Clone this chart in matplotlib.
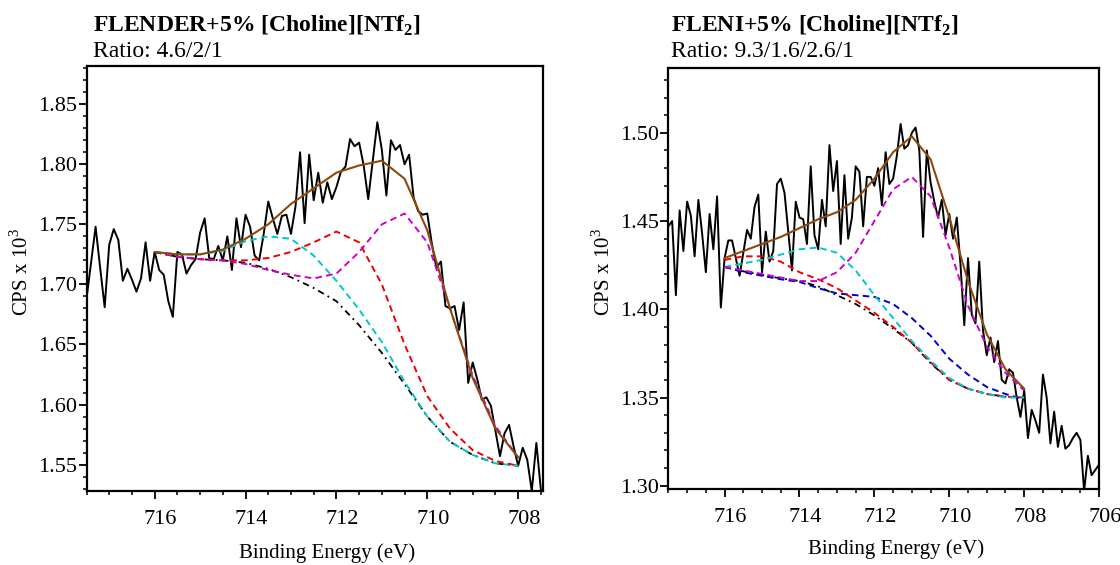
import numpy as np
import matplotlib
matplotlib.use("Agg")
import matplotlib.pyplot as plt
from matplotlib.ticker import MultipleLocator, FormatStrFormatter
from matplotlib.transforms import ScaledTranslation

plt.rcParams['font.family'] = ['Liberation Serif', 'DejaVu Serif']
plt.rcParams['mathtext.fontset'] = 'custom'
plt.rcParams['mathtext.rm'] = 'Liberation Serif'
plt.rcParams['mathtext.bf'] = 'Liberation Serif:bold'

# ---------------- Left panel data ----------------
left_E = np.round(np.arange(717.5, 707.45, -0.1), 1)
left_cps = [1.688, 1.718, 1.748, 1.714, 1.681, 1.733, 1.746, 1.737, 1.703, 1.713,
            1.704, 1.694, 1.705, 1.735, 1.703, 1.727, 1.712, 1.708, 1.686, 1.673,
            1.727, 1.725, 1.709, 1.716, 1.721, 1.743, 1.755, 1.722, 1.721, 1.732,
            1.720, 1.740, 1.712, 1.755, 1.731, 1.758, 1.748, 1.724, 1.720, 1.742,
            1.769, 1.755, 1.742, 1.757, 1.758, 1.742, 1.765, 1.810, 1.751, 1.808,
            1.770, 1.793, 1.768, 1.785, 1.771, 1.781, 1.794, 1.798, 1.821, 1.815,
            1.818, 1.799, 1.771, 1.803, 1.835, 1.812, 1.774, 1.820, 1.812, 1.816,
            1.800, 1.808, 1.772, 1.761, 1.758, 1.759, 1.734, 1.714, 1.719, 1.682,
            1.680, 1.682, 1.662, 1.685, 1.618, 1.635, 1.621, 1.604, 1.606, 1.599,
            1.578, 1.557, 1.576, 1.583, 1.565, 1.549, 1.564, 1.554, 1.528, 1.568,
            1.529]

fit_E = [716.0, 715.5, 715.0, 714.5, 714.0, 713.5, 713.0, 712.5, 712.0,
         711.5, 711.0, 710.5, 710.0, 709.5, 709.0, 708.5, 708.0]

left_bg =      [1.727, 1.723, 1.721, 1.720, 1.718, 1.713, 1.706, 1.697, 1.686,
                1.666, 1.643, 1.617, 1.590, 1.569, 1.558, 1.551, 1.549]
left_cyan =    [1.727, 1.725, 1.725, 1.728, 1.736, 1.740, 1.738, 1.724, 1.703,
                1.679, 1.652, 1.619, 1.590, 1.569, 1.558, 1.551, 1.549]
left_red =     [1.727, 1.723, 1.721, 1.720, 1.720, 1.722, 1.727, 1.735, 1.744,
                1.735, 1.700, 1.650, 1.607, 1.580, 1.562, 1.553, 1.549]
left_magenta = [1.727, 1.723, 1.721, 1.720, 1.717, 1.712, 1.708, 1.705, 1.709,
                1.727, 1.750, 1.759, 1.735, 1.680, 1.624, 1.582, 1.556]
left_env =     [1.727, 1.725, 1.725, 1.729, 1.738, 1.750, 1.767, 1.780, 1.793,
                1.799, 1.803, 1.788, 1.745, 1.680, 1.622, 1.580, 1.556]

# ---------------- Right panel data ----------------
right_E = np.round(np.arange(717.5, 705.95, -0.1), 1)
right_cps = [1.447, 1.450, 1.408, 1.456, 1.433, 1.461, 1.453, 1.430, 1.462, 1.443,
             1.421, 1.454, 1.434, 1.464, 1.401, 1.429, 1.439, 1.439, 1.429, 1.419,
             1.432, 1.445, 1.440, 1.458, 1.465, 1.421, 1.444, 1.427, 1.433, 1.471,
             1.474, 1.466, 1.444, 1.422, 1.461, 1.452, 1.451, 1.437, 1.481, 1.442,
             1.434, 1.462, 1.447, 1.493, 1.467, 1.484, 1.437, 1.476, 1.440, 1.452,
             1.481, 1.478, 1.447, 1.475, 1.475, 1.470, 1.480, 1.459, 1.489, 1.471,
             1.474, 1.487, 1.505, 1.491, 1.493, 1.500, 1.503, 1.490, 1.441, 1.490,
             1.472, 1.461, 1.452, 1.462, 1.442, 1.454, 1.440, 1.452, 1.425, 1.391,
             1.429, 1.397, 1.392, 1.427, 1.388, 1.374, 1.384, 1.370, 1.382, 1.360,
             1.358, 1.366, 1.364, 1.350, 1.339, 1.354, 1.327, 1.343, 1.337, 1.330,
             1.363, 1.350, 1.324, 1.342, 1.322, 1.334, 1.321, 1.323, 1.327, 1.330,
             1.326, 1.297, 1.317, 1.306, 1.309, 1.312]

right_bg =      [1.424, 1.4215, 1.4195, 1.4175, 1.416, 1.413, 1.408, 1.403, 1.3965,
                 1.389, 1.381, 1.3695, 1.360, 1.355, 1.352, 1.3505, 1.350]
right_blue =    [1.424, 1.421, 1.419, 1.417, 1.4155, 1.412, 1.409, 1.408, 1.407,
                 1.403, 1.395, 1.385, 1.372, 1.363, 1.356, 1.352, 1.349]
right_red =     [1.428, 1.430, 1.430, 1.427, 1.421, 1.417, 1.412, 1.405, 1.398,
                 1.390, 1.381, 1.370, 1.360, 1.355, 1.352, 1.3505, 1.350]
right_cyan =    [1.424, 1.426, 1.428, 1.431, 1.434, 1.435, 1.432, 1.422, 1.408,
                 1.395, 1.382, 1.371, 1.361, 1.355, 1.352, 1.350, 1.350]
right_magenta = [1.424, 1.422, 1.420, 1.418, 1.416, 1.416, 1.421, 1.432, 1.450,
                 1.468, 1.475, 1.464, 1.435, 1.402, 1.379, 1.364, 1.354]
right_env =     [1.429, 1.433, 1.437, 1.441, 1.446, 1.451, 1.455, 1.462, 1.474,
                 1.489, 1.498, 1.485, 1.452, 1.416, 1.386, 1.366, 1.355]

titles = ["FLENDER+5% [Choline][NTf$_{\\mathbf{2}}$]", "FLENI+5% [Choline][NTf$_{\\mathbf{2}}$]"]
ratios = ["Ratio: 4.6/2/1", "Ratio: 9.3/1.6/2.6/1"]

C_BROWN = '#8b4a0c'
C_CYAN = '#00c8c8'
C_RED = '#ee0000'
C_MAG = '#cc00cc'
C_BLUE = '#0000cc'
DASH = (3.4, 2.2)
DASHDOT = (3.6, 2.4, 1.0, 2.4)

W, H = 1120, 565
fig = plt.figure(figsize=(W / 100, H / 100), dpi=100)


def px_axes(x0, x1, ytop, ybot):
    return fig.add_axes([x0 / W, 1 - ybot / H, (x1 - x0) / W, (ybot - ytop) / H])


axL = px_axes(86.5, 542.7, 66.4, 491.0)
axR = px_axes(668.4, 1099.1, 67.5, 489.3)

# left panel lines
axL.plot(left_E, left_cps, color='black', lw=1.4, zorder=3)
axL.plot(fit_E, left_bg, color='black', lw=1.3, dashes=DASHDOT, zorder=4)
axL.plot(fit_E, left_cyan, color=C_CYAN, lw=1.4, dashes=DASH, zorder=5)
axL.plot(fit_E, left_red, color=C_RED, lw=1.4, dashes=DASH, zorder=5)
axL.plot(fit_E, left_magenta, color=C_MAG, lw=1.4, dashes=DASH, zorder=5)
axL.plot(fit_E, left_env, color=C_BROWN, lw=1.5, zorder=6)

# right panel lines
axR.plot(right_E, right_cps, color='black', lw=1.4, zorder=3)
axR.plot(fit_E, right_bg, color='black', lw=1.3, dashes=DASHDOT, zorder=4)
axR.plot(fit_E, right_blue, color=C_BLUE, lw=1.4, dashes=DASH, zorder=5)
axR.plot(fit_E, right_red, color=C_RED, lw=1.4, dashes=DASH, zorder=5)
axR.plot(fit_E, right_cyan, color=C_CYAN, lw=1.4, dashes=DASH, zorder=5)
axR.plot(fit_E, right_magenta, color=C_MAG, lw=1.4, dashes=DASH, zorder=5)
axR.plot(fit_E, right_env, color=C_BROWN, lw=1.5, zorder=6)

axL.set_xlim(717.5, 707.46)
axL.set_ylim(1.528, 1.8815)
axR.set_xlim(717.5, 706.0)
axR.set_ylim(1.298, 1.537)

xlab_pos = [(327, 553), (895.6, 549)]
ylab_x = [22, 603]
axes_px = [(86.5, 542.7, 66.4, 491.0), (668.4, 1099.1, 67.5, 489.3)]
title_x = [93.3, 671.3]

for i, ax in enumerate([axL, axR]):
    for s in ax.spines.values():
        s.set_linewidth(1.6)
    ax.xaxis.set_major_locator(MultipleLocator(2))
    ax.xaxis.set_minor_locator(MultipleLocator(0.5))
    ax.yaxis.set_major_locator(MultipleLocator(0.05))
    ax.yaxis.set_minor_locator(MultipleLocator(0.01))
    ax.yaxis.set_major_formatter(FormatStrFormatter('%.2f'))
    ax.xaxis.set_major_formatter(FormatStrFormatter('%d'))
    ax.tick_params(which='major', direction='out', length=6, width=1.3,
                   labelsize=16, top=False, right=False)
    ax.tick_params(which='minor', direction='out', length=3, width=1.1,
                   top=False, right=False)
    ax.tick_params(axis='y', which='major', pad=0.5)
    ax.tick_params(axis='x', which='major', pad=7.5)
    off = ScaledTranslation(6 / 100, 0, fig.dpi_scale_trans)
    for lab in ax.get_xticklabels():
        lab.set_transform(lab.get_transform() + off)
    x0, x1, yt, yb = axes_px[i]
    ax.set_xlabel('Binding Energy (eV)', fontsize=15)
    ax.xaxis.set_label_coords((xlab_pos[i][0] - x0) / (x1 - x0),
                              (yb - xlab_pos[i][1]) / (yb - yt))
    ax.xaxis.label.set_verticalalignment('center')
    ax.set_ylabel('CPS x 10$^3$', fontsize=15)
    ax.yaxis.set_label_coords((ylab_x[i] - x0) / (x1 - x0), 0.515)
    ax.yaxis.label.set_horizontalalignment('center')
    ax.yaxis.label.set_verticalalignment('center')
    fig.text(title_x[i] / W, 1 - 31.5 / H, titles[i], fontsize=17,
             fontweight='bold', va='baseline', ha='left')
    fig.text(title_x[i] / W, 1 - 57.4 / H, ratios[i], fontsize=17,
             va='baseline', ha='left')

fig.savefig('out.png', dpi=100)
